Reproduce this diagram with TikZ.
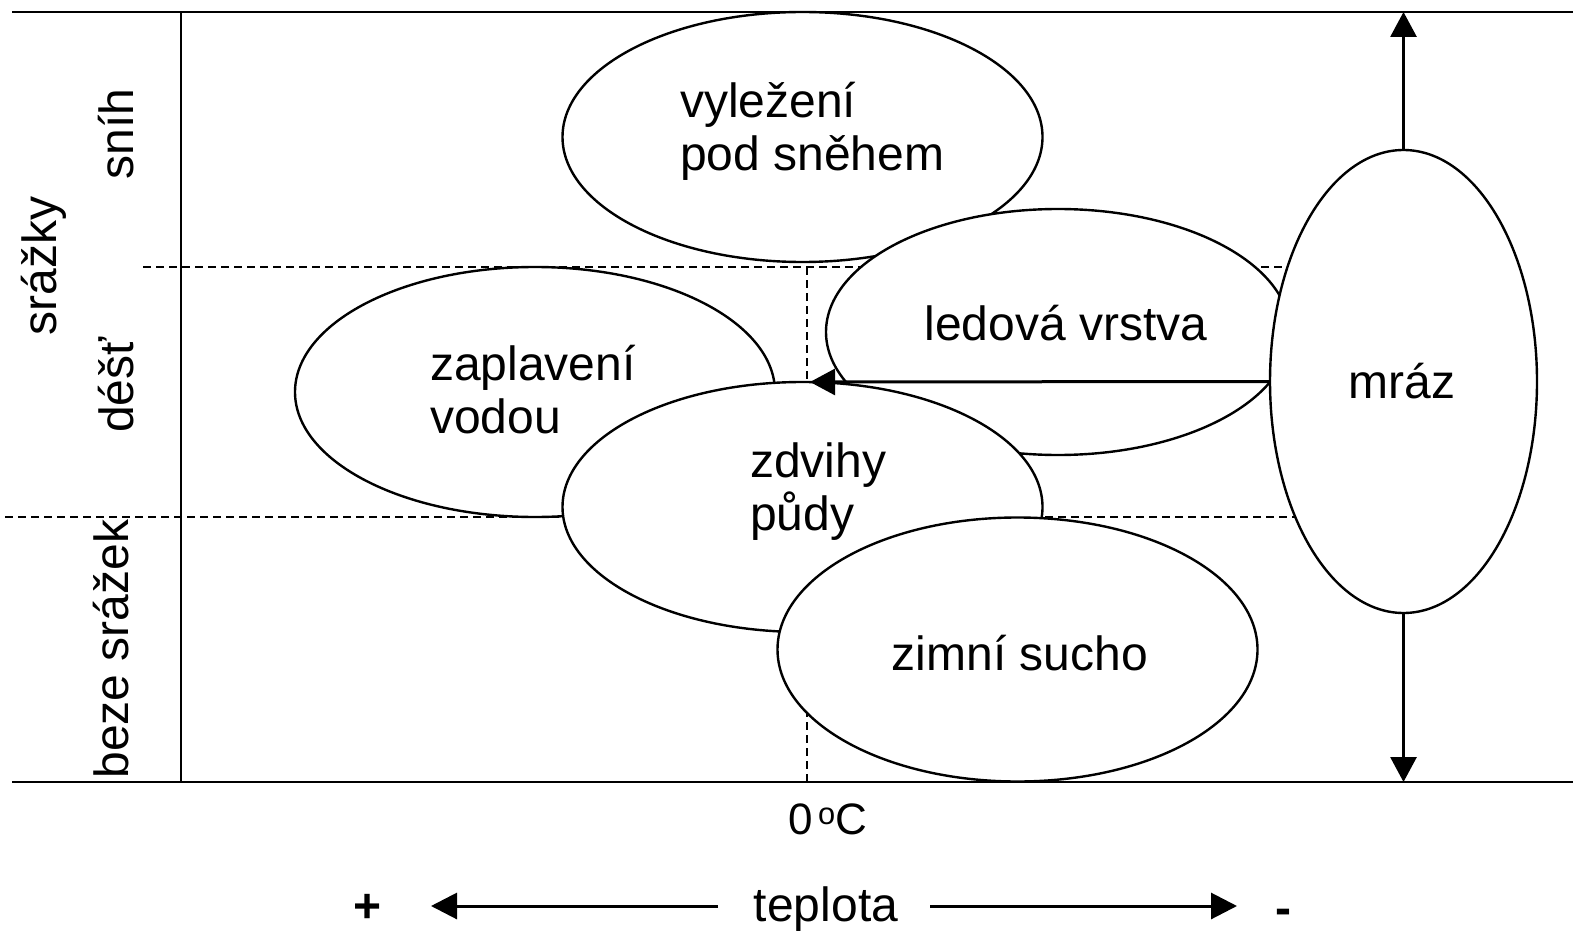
\documentclass[tikz,border=0pt]{standalone}
\usepackage{fontspec}
\setmainfont{Liberation Sans}
\usetikzlibrary{shapes.geometric,arrows.meta}
\begin{document}
\begin{tikzpicture}[x=1pt,y=-1pt,
  every node/.style={inner sep=0pt,outer sep=0pt,font=\fontsize{48}{53}\selectfont},
  field/.style={draw,ellipse,fill=white,line width=2.4pt,inner sep=0pt},
  border/.style={line width=2.4pt},
  zone/.style={line width=1.6pt,dash pattern=on 8pt off 5pt},
  arr/.style={line width=3pt,-{Triangle[length=25pt,width=26pt]}},
  axisarr/.style={line width=3pt,-{Triangle[length=26pt,width=26pt]}}
]
\useasboundingbox (0,0) rectangle (1573,933);

% frame corners and axis ends
\coordinate (tl) at (12,12);
\coordinate (tr) at (1573,12);
\coordinate (bl) at (12,782);
\coordinate (br) at (1573,782);
\coordinate (axT) at (181,12);
\coordinate (axB) at (181,782);

% zone boundaries (drawn first, partly hidden by the fields)
\coordinate (rainL) at (143,267);
\coordinate (rainR) at (1300,267);
\coordinate (dryL) at (5,517);
\coordinate (dryR) at (1300,517);
\coordinate (zeroT) at (807,267);
\coordinate (zeroB) at (807,782);
\draw[zone] (rainL) -- (rainR);
\draw[zone] (dryL) -- (dryR);
\draw[zone] (zeroT) -- (zeroB);

% fields
\node[field,minimum width=480pt,minimum height=250pt] (vyl) at (802.5,137) {};
\node[field,minimum width=480pt,minimum height=250pt] (zap) at (535,392) {};
\node[field,minimum width=464pt,minimum height=246pt] (led) at (1058,332) {};
\node[field,minimum width=480pt,minimum height=250pt] (zdv) at (802.5,507) {};
\node[field,minimum width=480pt,minimum height=264pt] (zim) at (1017.5,649.5) {};
\node[field,minimum width=267pt,minimum height=463pt] (mraz) at (1403.5,381.5) {};

% field labels
\node[anchor=north west,align=left] (vylT) at (680,82) {vyležení\\pod sněhem};
\node[anchor=north west,align=left] (zapT) at (430,345) {zaplavení\\vodou};
\node[anchor=north west,align=left] (zdvT) at (750,443) {zdvihy\\půdy};
\node[anchor=base] (ledT) at (1066,340) {ledová vrstva};
\node[anchor=base] (zimT) at (1020,670) {zimní sucho};
\node[anchor=base] (mrazT) at (1402,398) {mráz};

% frame
\draw[border] (tl) -- (tr);
\draw[border] (bl) -- (br);
\draw[border] (axT) -- (axB);

% precipitation axis labels
\node[rotate=90,anchor=base] (srazky) at (56,266) {srážky};
\node[rotate=90,anchor=base] (snih) at (133,134) {sníh};
\node[rotate=90,anchor=base] (dest) at (133,385) {déšť};
\node[rotate=90,anchor=base] (beze) at (128,649) {beze srážek};

% frost reaching up, down and into the rain zone
\coordinate (zeroArr) at (810,382);
\draw[arr] (mraz.north) -- (mraz.north |- tr);
\draw[arr] (mraz.south) -- (mraz.south |- br);
\draw[arr] (mraz.west) -- (zeroArr);

% temperature axis
\node[anchor=base,font=\fontsize{44}{50}\selectfont] (zero) at (828,834) {0\hspace{5pt}\textsuperscript{o}C};
\node[anchor=base] (teplota) at (826,921) {teplota};
\node[anchor=base] (plus) at (368,922) {\bfseries +};
\node[anchor=base] (minus) at (1283,924) {\bfseries -};
\coordinate (lstart) at (718,906);
\coordinate (lend) at (431,906);
\coordinate (rstart) at (930,906);
\coordinate (rend) at (1237,906);
\draw[axisarr] (lstart) -- (lend);
\draw[axisarr] (rstart) -- (rend);
\end{tikzpicture}
\end{document}
